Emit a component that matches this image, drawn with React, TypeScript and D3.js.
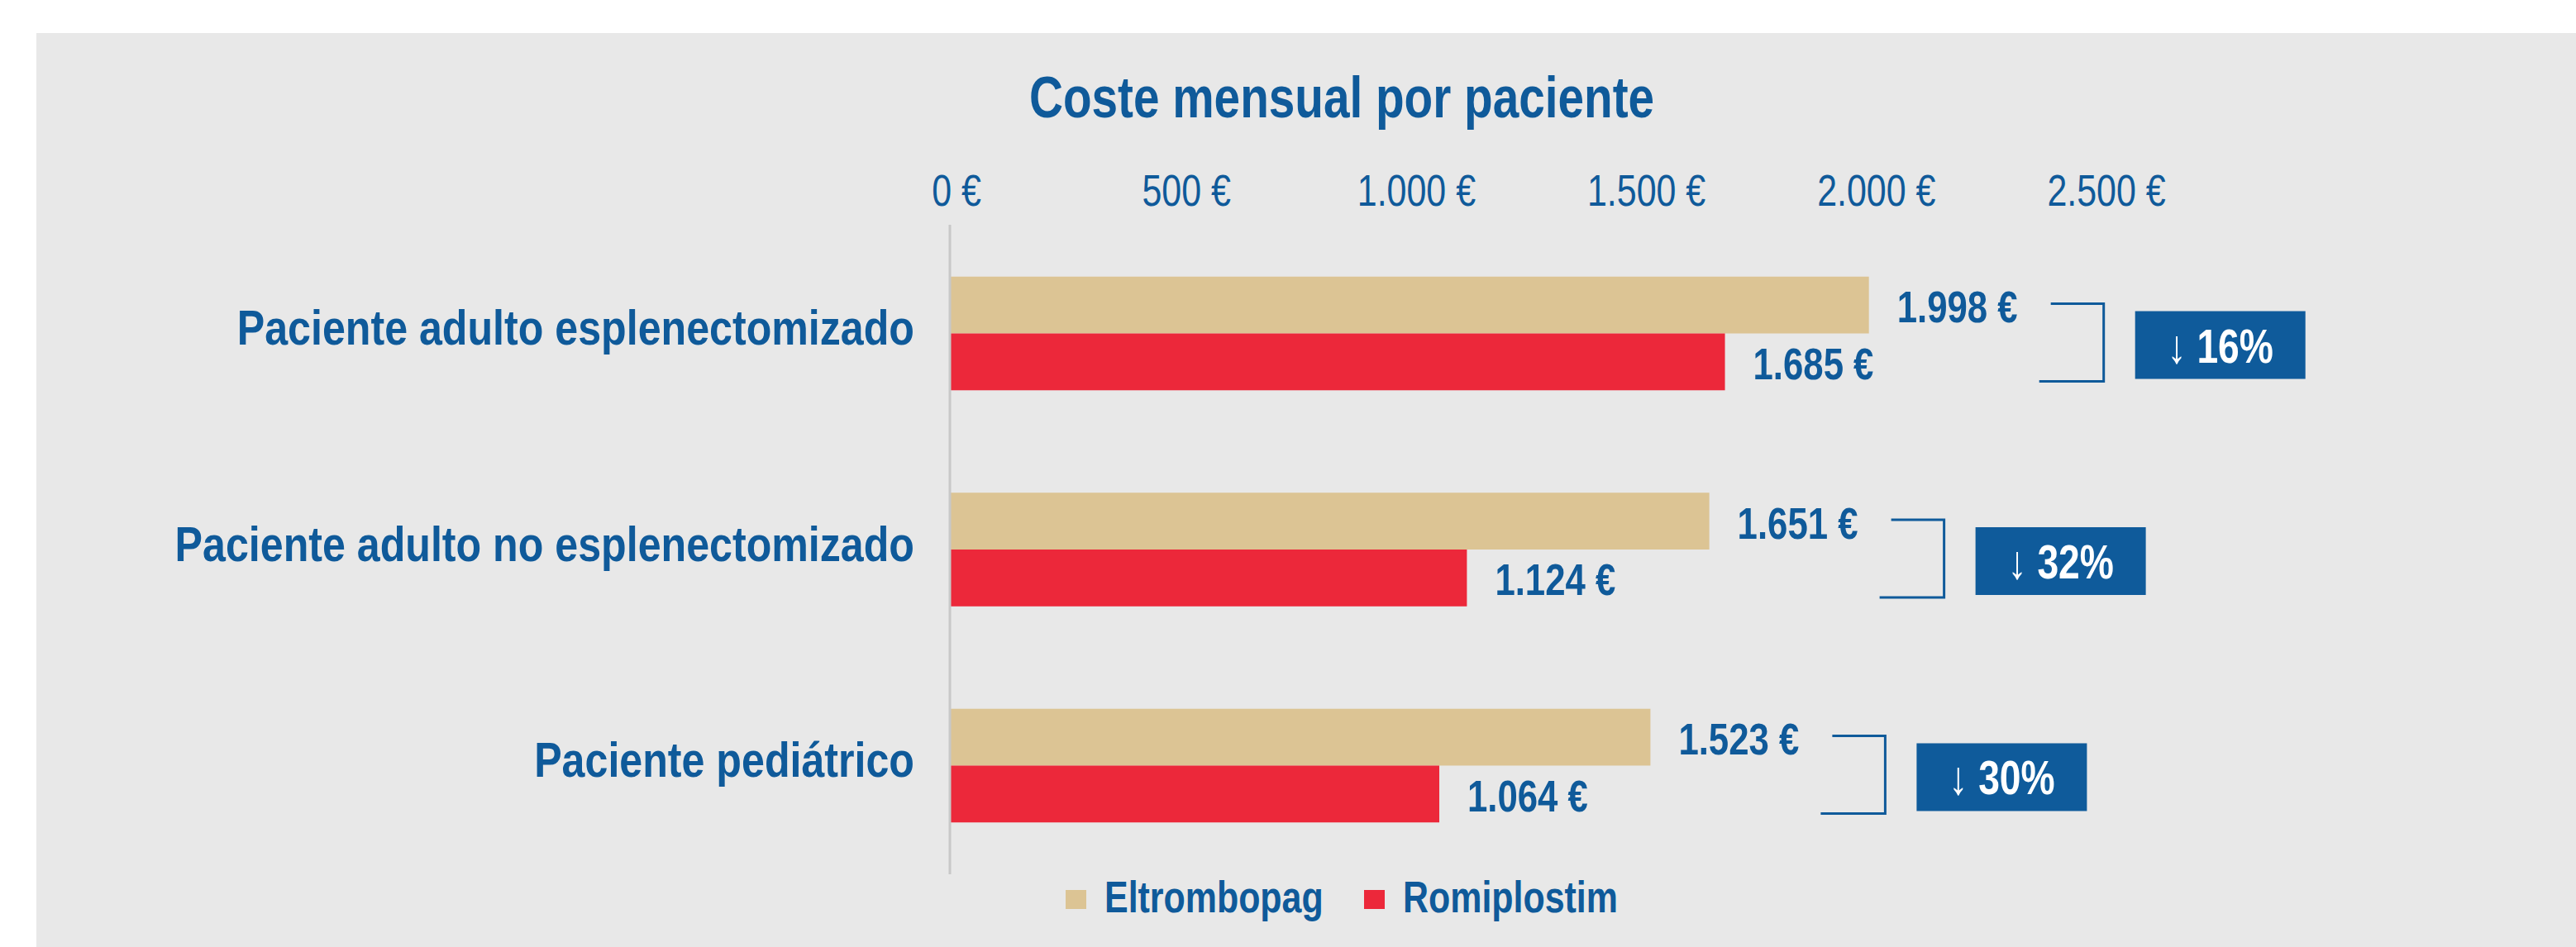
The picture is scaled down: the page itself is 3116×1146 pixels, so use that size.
import React from 'react';
import * as d3 from 'd3';

const title = 'Coste mensual por paciente';
const categories = [
  'Paciente adulto esplenectomizado',
  'Paciente adulto no esplenectomizado',
  'Paciente pediátrico',
];
const seriesNames = ['Eltrombopag', 'Romiplostim'];
const eltrombopag = [1998, 1651, 1523];
const romiplostim = [1685, 1124, 1064];
const xTicks = [0, 500, 1000, 1500, 2000, 2500];

const W = 3116;
const H = 1146;
const BLUE = '#0f5a9a';
const BADGE = '#0f5b9b';
const COLORS: Record<string, string> = { Eltrombopag: '#dcc494', Romiplostim: '#ec283a' };
const FONT = "'Liberation Sans', Arial, Helvetica, sans-serif";
const SX = 0.81;

const locale = d3.formatLocale({ decimal: ',', thousands: '.', grouping: [3], currency: ['', ' €'] });
const fmtEur = locale.format('$,.0f');

function NText(props: any) {
  const { x, y, anchor = 'start', size, weight = 'bold', fill = BLUE, sx = SX, children } = props;
  return (
    <text
      transform={`translate(${x},${y}) scale(${sx},1)`}
      textAnchor={anchor}
      fontSize={size}
      fontWeight={weight}
      fill={fill}
      fontFamily={FONT}
    >
      {children}
    </text>
  );
}

export default function App() {
  const x = d3.scaleLinear().domain([0, 2500]).range([1149, 2540]);
  const y = d3.scaleBand<string>().domain(categories).range([272, 1058]).paddingInner(0.474).paddingOuter(0.24);
  const ySub = d3.scaleBand<string>().domain(seriesNames).range([0, y.bandwidth()]);

  const rows = categories.map((c, i) => ({
    c,
    vals: [eltrombopag[i], romiplostim[i]],
  }));

  const legendX = [1289, 1650];

  return (
    <svg
      width={W}
      height={H}
      style={{ position: 'absolute', left: 0, top: 0, display: 'block' }}
    >
      <rect x={44} y={40} width={W - 44} height={H - 40} fill="#e8e8e8" />
      <NText x={1623} y={142} anchor="middle" size={70}>{title}</NText>

      {xTicks.map((t) => (
        <NText key={t} x={x(t) + 8} y={249} anchor="middle" size={53} weight="normal">
          {fmtEur(t)}
        </NText>
      ))}

      {rows.map((r) => {
        const band = y(r.c)!;
        const cy = band + y.bandwidth() / 2;
        const right = x(r.vals[0]) + 284;
        const top = cy - 36;
        const bottom = cy + 58;
        const pct = Math.round(((r.vals[0] - r.vals[1]) / r.vals[0]) * 100);
        const bx = right + 38;
        const bcy = cy + 14;
        return (
          <g key={r.c}>
            <NText x={1106} y={cy + 13.5} anchor="end" size={60} sx={0.836}>{r.c}</NText>
            {seriesNames.map((s, j) => {
              const yy = band + ySub(s)!;
              const h = ySub.bandwidth();
              return (
                <g key={s}>
                  <rect x={x(0)} y={yy} width={x(r.vals[j]) - x(0)} height={h} fill={COLORS[s]} />
                  <NText x={x(r.vals[j]) + 34} y={yy + h / 2 + 21} size={54}>
                    {fmtEur(r.vals[j])}
                  </NText>
                </g>
              );
            })}
            <path
              d={`M${right - 64},${top} H${right} V${bottom} H${right - 78}`}
              fill="none"
              stroke={BLUE}
              strokeWidth={3}
            />
            <rect x={bx} y={bcy - 41} width={206} height={82} fill={BADGE} />
            <NText x={bx + 103} y={bcy + 21} anchor="middle" size={57} fill="#ffffff">
              {`↓ ${pct}%`}
            </NText>
          </g>
        );
      })}

      <line x1={x(0)} x2={x(0)} y1={272} y2={1058} stroke="#c8c8c8" strokeWidth={3} />

      {seriesNames.map((s, i) => (
        <g key={s}>
          <rect x={legendX[i]} y={1077} width={25} height={23} fill={COLORS[s]} />
          <NText x={legendX[i] + 47} y={1104} size={53}>{s}</NText>
        </g>
      ))}
    </svg>
  );
}
